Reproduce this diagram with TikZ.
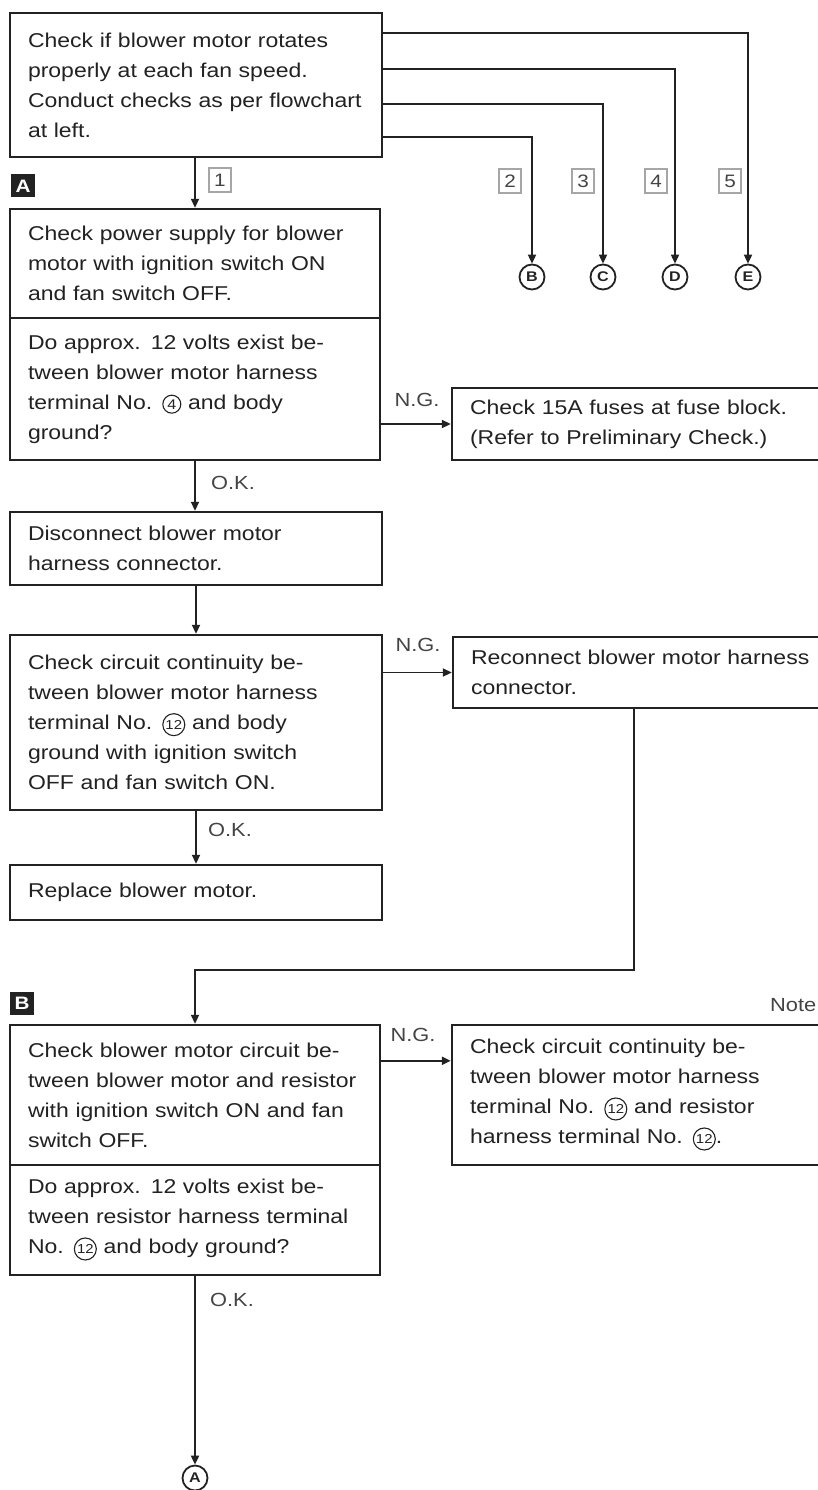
\documentclass[tikz,border=0pt]{standalone}
\usepackage{fontspec}
\setmainfont{Liberation Sans}[FakeStretch=1.15]
\usetikzlibrary{arrows.meta,calc}
\definecolor{ink}{HTML}{222222}
\definecolor{soft}{HTML}{444444}
\newsavebox\cfour
\newsavebox\ctwelve
\begin{document}
\sbox\cfour{\begin{pgfpicture}\pgfsetbaseline{0pt}\pgfsetlinewidth{1.1pt}\pgfsetstrokecolor{ink}%
  \pgfpathcircle{\pgfpoint{0pt}{5pt}}{9pt}\pgfusepath{stroke}%
  \pgftext[base]{\fontsize{14}{14}\selectfont\color{ink}4}\end{pgfpicture}}%
\sbox\ctwelve{\begin{pgfpicture}\pgfsetbaseline{0pt}\pgfsetlinewidth{1.1pt}\pgfsetstrokecolor{ink}%
  \pgfpathcircle{\pgfpoint{0pt}{5pt}}{11pt}\pgfusepath{stroke}%
  \pgftext[base]{\fontsize{13}{13}\selectfont\color{ink}12}\end{pgfpicture}}%
\begin{tikzpicture}[x=1pt,y=-1pt,
  box/.style={draw=ink,line width=2.4pt,rectangle,inner xsep=18pt,inner ysep=0pt,
    align=left,font=\fontsize{20}{30}\selectfont,text=ink,anchor=center},
  conn/.style={draw=ink,line width=1.9pt},
  arr/.style={conn,-{Triangle[length=9pt,width=8pt]}},
  lbl/.style={font=\fontsize{19}{19}\selectfont,text=soft,inner sep=0pt},
  numbox/.style={draw=gray!70,line width=1.3pt,fill=white,minimum width=22pt,minimum height=24pt,
    inner sep=0pt,font=\fontsize{18}{18}\selectfont,text=soft},
  secbox/.style={fill=ink,minimum width=24pt,minimum height=23pt,inner sep=0pt,
    font=\bfseries\fontsize{18}{18}\selectfont,text=white},
  cletter/.style={circle,draw=ink,line width=1.8pt,minimum size=25pt,inner sep=0pt,
    font=\bfseries\fontsize{14}{14}\selectfont,text=ink}]
\fill[white] (0,0) rectangle (817,1490);
\useasboundingbox (0,0) rectangle (817,1490);

% boxes
\node[box,minimum width=372pt,minimum height=144pt,text width=336pt] (top) at (196,85)
  {Check if blower motor rotates\\properly at each fan speed.\\Conduct checks as per flowchart\\at left.};
\node[box,minimum width=370pt,minimum height=109pt,text width=334pt] (A1) at (195,263.5)
  {Check power supply for blower\\motor with ignition switch ON\\and fan switch OFF.};
\node[box,minimum width=370pt,minimum height=142pt,text width=334pt] (A2) at (195,389)
  {Do approx. 12 volts exist be-\\tween blower motor harness\\terminal No. \usebox\cfour{} and body\\ground?};
\node[box,minimum width=388pt,minimum height=72pt,text width=352pt] (fuse) at (646,424)
  {Check 15A fuses at fuse block.\\(Refer to Preliminary Check.)};
\node[box,minimum width=372pt,minimum height=73pt,text width=336pt] (disc) at (196,548.5)
  {Disconnect blower motor\\harness connector.};
\node[box,minimum width=372pt,minimum height=175pt,text width=336pt] (circ) at (196,722.5)
  {Check circuit continuity be-\\tween blower motor harness\\terminal No. \usebox\ctwelve{} and body\\ground with ignition switch\\OFF and fan switch ON.};
\node[box,minimum width=387pt,minimum height=71pt,text width=351pt] (recon) at (646.5,672.5)
  {Reconnect blower motor harness\\connector.};
\node[box,minimum width=372pt,minimum height=55pt,text width=336pt] (repl) at (196,892.5)
  {Replace blower motor.};
\node[box,minimum width=370pt,minimum height=140pt,text width=334pt] (B1) at (195,1095)
  {Check blower motor circuit be-\\tween blower motor and resistor\\with ignition switch ON and fan\\switch OFF.};
\node[box,minimum width=370pt,minimum height=110pt,text width=334pt] (B2) at (195,1220)
  {Do approx. 12 volts exist be-\\tween resistor harness terminal\\No. \usebox\ctwelve{} and body ground?};
\node[box,minimum width=388pt,minimum height=140pt,text width=352pt] (note) at (646,1095)
  {Check circuit continuity be-\\tween blower motor harness\\terminal No. \usebox\ctwelve{} and resistor\\harness terminal No. \usebox\ctwelve{}.};

% section markers and labels
\node[secbox] (secA) at (23,186) {A};
\node[secbox] (secB) at (22,1003) {B};
\node[lbl,anchor=west] (notelbl) at (770,1005) {Note};

% circled letters
\node[cletter] (cB) at (532,277) {B};
\node[cletter] (cC) at (603,277) {C};
\node[cletter] (cD) at (675,277) {D};
\node[cletter] (cE) at (748,277) {E};
\node[cletter] (cA) at (195,1478) {A};

% numbered boxes
\node[numbox] (n1) at (220,180) {1};
\node[numbox] (n2) at (510,181) {2};
\node[numbox] (n3) at (583,181) {3};
\node[numbox] (n4) at (656,181) {4};
\node[numbox] (n5) at (730,181) {5};

% connectors from top box
\draw[arr] (A1.north |- top.south) -- (A1.north);
\coordinate (tB) at (532,137);
\coordinate (tC) at (603,104);
\coordinate (tD) at (675,69);
\coordinate (tE) at (748,33);
\draw[arr] (top.east |- tB) -| (cB);
\draw[arr] (top.east |- tC) -| (cC);
\draw[arr] (top.east |- tD) -| (cD);
\draw[arr] (top.east |- tE) -| (cE);

% section A
\draw[arr] (A2.east |- fuse.west) -- (fuse.west);
\node[lbl] (ng1) at (417,400) {N.G.};
\draw[arr] (A2.south) -- (A2.south |- disc.north);
\node[lbl] (ok1) at (233,483) {O.K.};
\draw[arr] (disc.south) -- (circ.north);
\draw[arr] (circ.east |- recon.west) -- (recon.west);
\node[lbl] (ng2) at (418,645) {N.G.};
\draw[arr] (circ.south) -- (repl.north);
\node[lbl] (ok2) at (230,830) {O.K.};

% reconnect to section B
\coordinate (rdown) at ($(recon.south west)+(182,0)$);
\coordinate (jB) at (195,970);
\draw[arr] (rdown) |- (jB) -- (B1.north);

% section B
\coordinate (ngB) at ($(note.north west)+(0,37)$);
\draw[arr] (B1.east |- ngB) -- (ngB);
\node[lbl] (ng3) at (413,1035) {N.G.};
\draw[arr] (B2.south) -- (cA);
\node[lbl] (ok3) at (232,1300) {O.K.};
\end{tikzpicture}
\end{document}
